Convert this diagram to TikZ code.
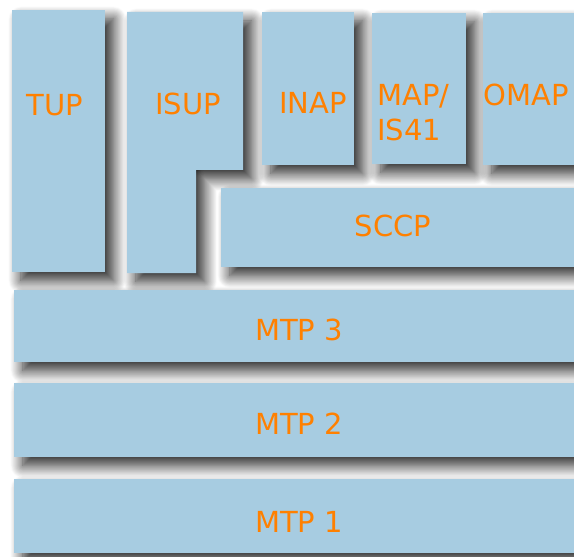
\documentclass[tikz,border=0pt]{standalone}
\usepackage{fontspec}
\setmainfont{DejaVu Sans}
\usetikzlibrary{positioning,shadows.blur}
\definecolor{layerblue}{HTML}{A7CCE1}
\definecolor{layerorange}{HTML}{FF8000}

\begin{document}
\begin{tikzpicture}[x=0.02cm,y=-0.02cm,
	layer/.style={fill=layerblue,blur shadow={shadow xshift=5pt,shadow yshift=-5pt,shadow blur radius=7pt,shadow blur steps=20,shadow opacity=85}},
	lbl/.style={text=layerorange,font=\fontsize{16.5}{20}\selectfont,inner sep=0pt}]
	\useasboundingbox (0,0) rectangle (574,557);
	% top row of user parts
	\path[layer] (12,10) rectangle (105,272);
	\path[layer] (127,12) -- (243,12) -- (243,170) -- (196,170) -- (196,273) -- (127,273) -- cycle;
	\path[layer] (262,12) rectangle (354,165);
	\path[layer] (372,13) rectangle (466,164);
	\path[layer] (483,13) rectangle (590,165);
	% sccp
	\path[layer] (221,188) rectangle (590,267);
	% mtp levels
	\path[layer] (14,290) rectangle (590,362);
	\path[layer] (14,383) rectangle (590,457);
	\path[layer] (14,479) rectangle (590,553);
	% labels
	\node[lbl] (tup) at (55,105) {TUP};
	\node[lbl] (isup) at (188,104) {ISUP};
	\node[lbl] (inap) at (313,103) {INAP};
	\node[lbl,align=left,anchor=west] (map) at (377,113) {MAP/\\IS41};
	\node[lbl] (omap) at (526,95) {OMAP};
	\node[lbl] (sccp) at (393,226) {SCCP};
	\node[lbl] (mtp3) at (299,330) {MTP 3};
	\node[lbl] (mtp2) at (299,424) {MTP 2};
	\node[lbl] (mtp1) at (299,522) {MTP 1};
\end{tikzpicture}
\end{document}
